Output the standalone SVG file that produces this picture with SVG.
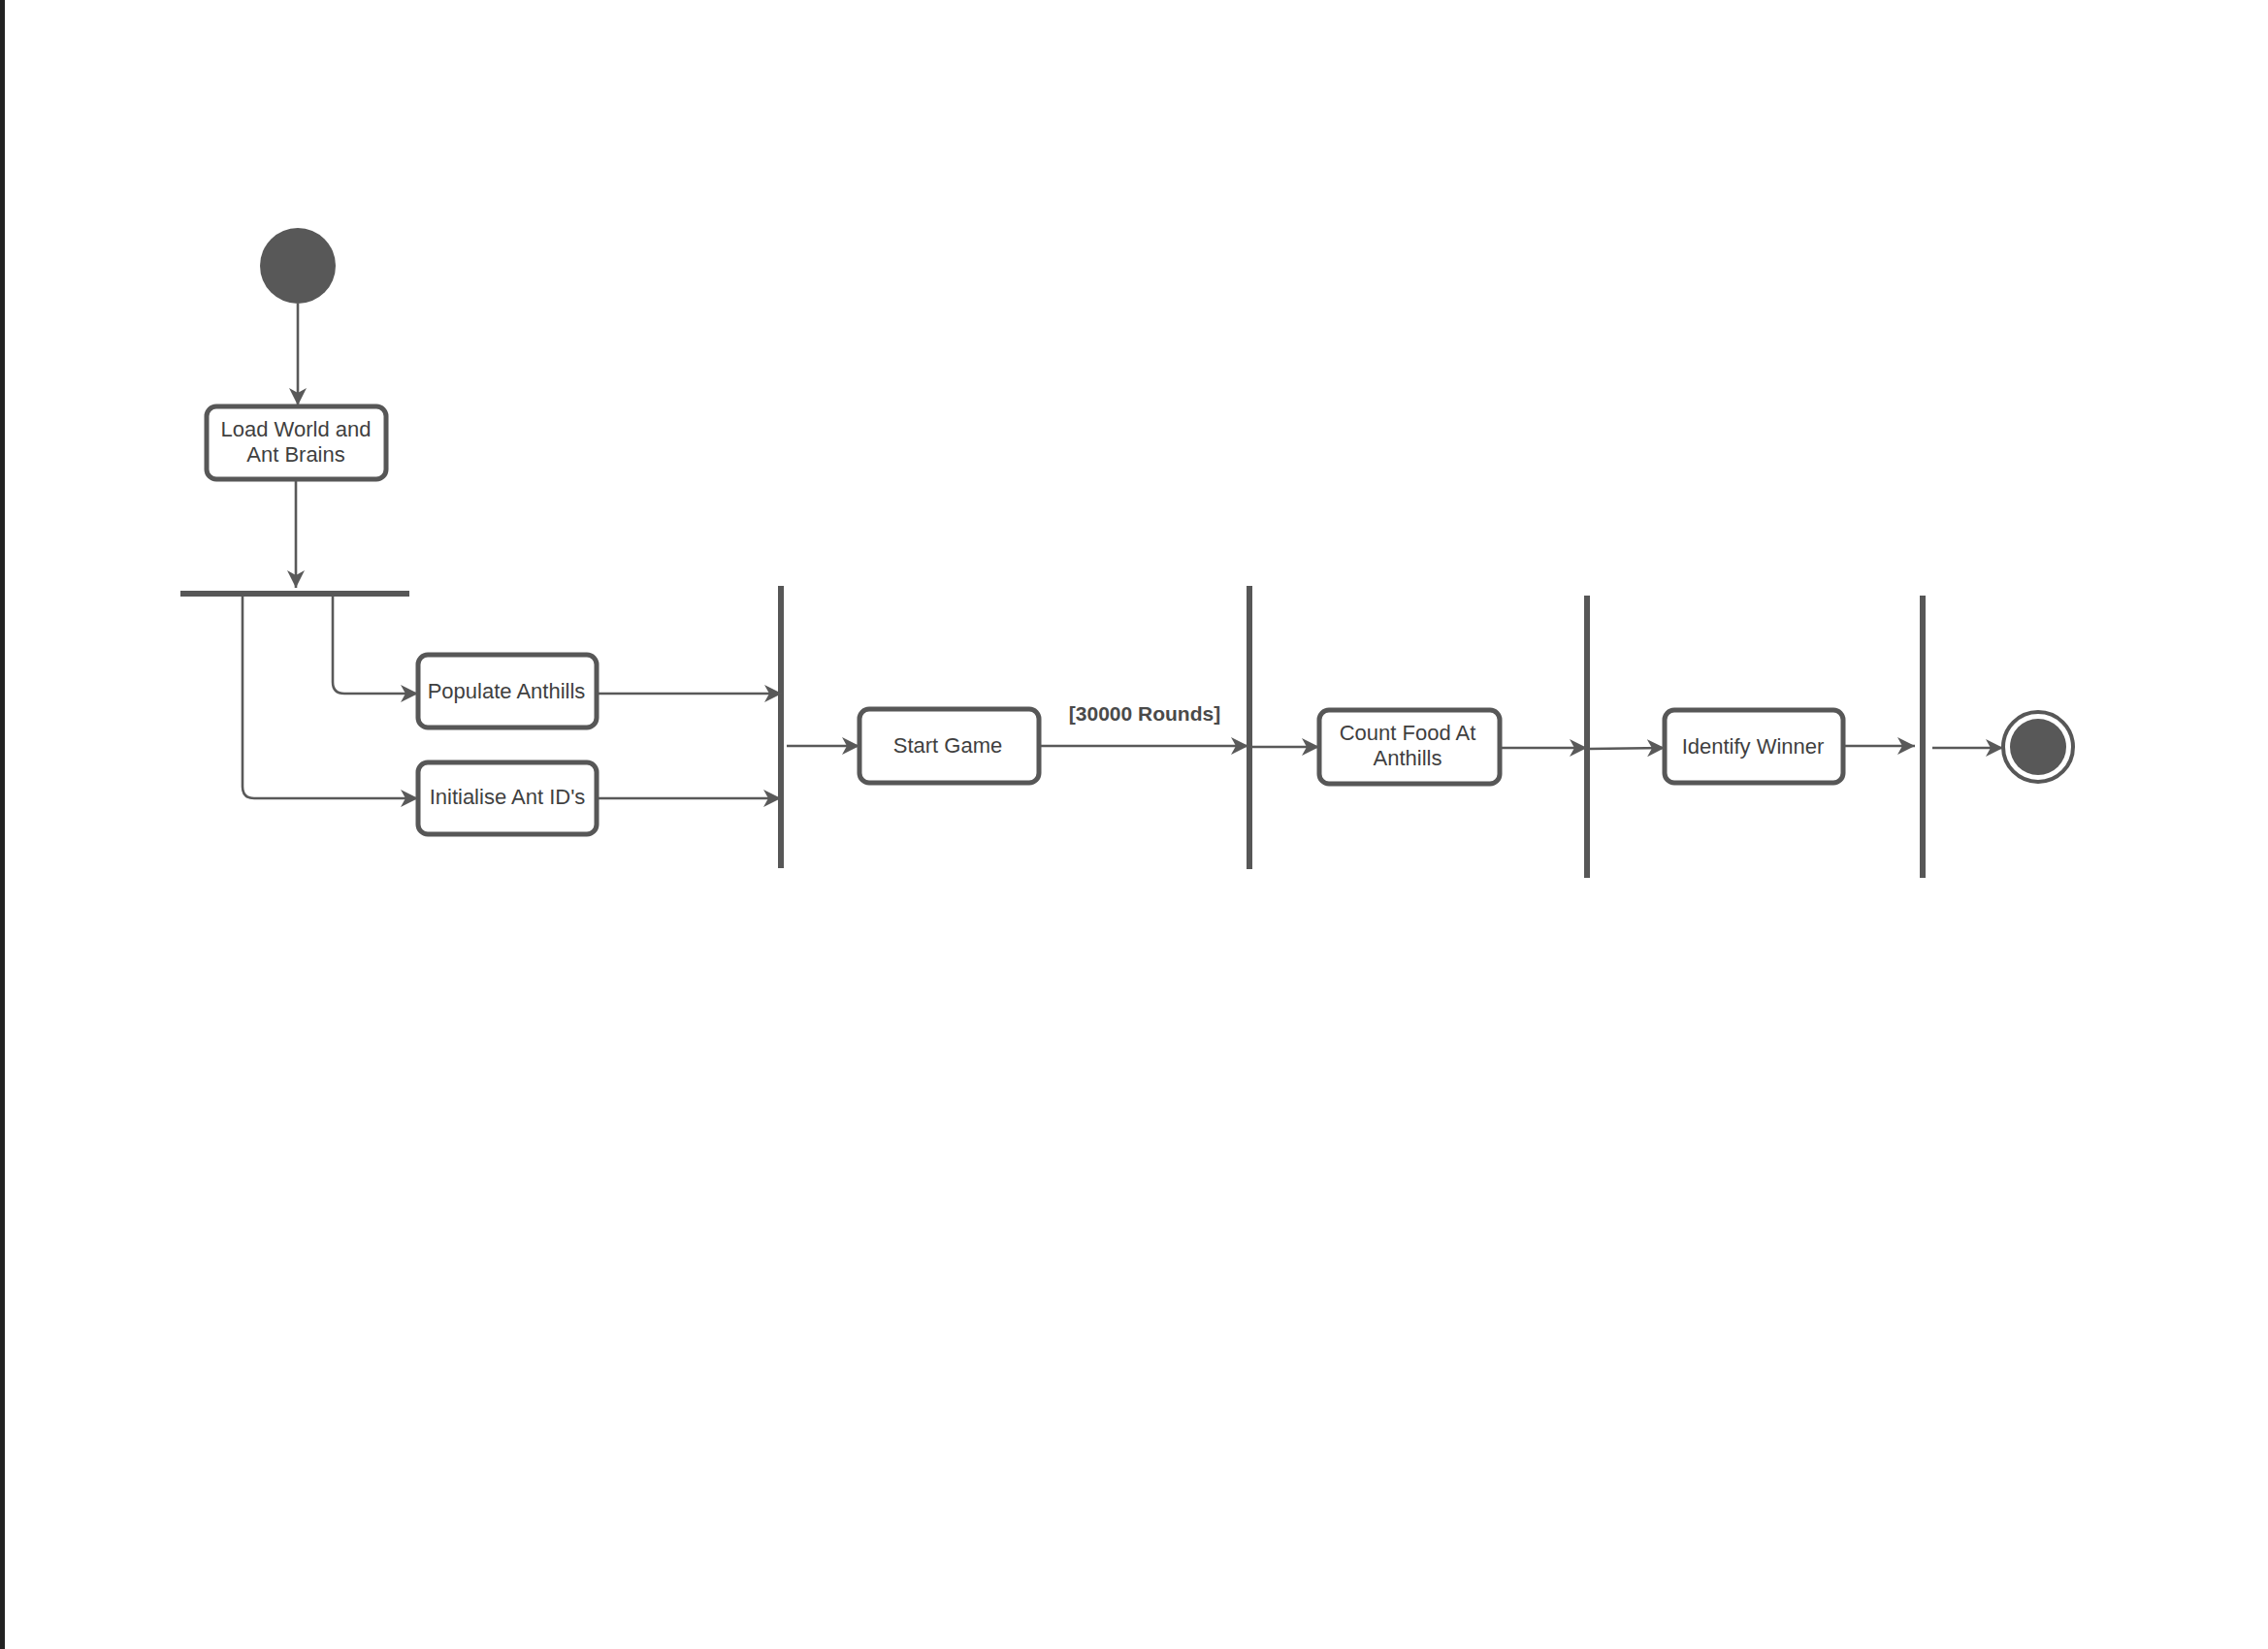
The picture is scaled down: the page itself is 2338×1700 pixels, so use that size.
<svg xmlns="http://www.w3.org/2000/svg" width="2338" height="1700" viewBox="0 0 2338 1700">
<style>
.node{fill:#fff;stroke:#575757;stroke-width:5}
.lbl{font-family:"Liberation Sans",Arial,sans-serif;font-size:22px;fill:#3f3f3f;text-anchor:middle}
.guard{font-family:"Liberation Sans",Arial,sans-serif;font-size:21px;font-weight:bold;fill:#4a4a4a;text-anchor:middle}
.edge{fill:none;stroke:#595959;stroke-width:2.6}
.bar{stroke:#575757;stroke-width:6}
</style>
<defs>
<marker id="arr" markerUnits="userSpaceOnUse" markerWidth="20" markerHeight="18" refX="18" refY="9" orient="auto">
<path d="M0,0 L18,9 L0,18 L5,9 z" fill="#595959"/>
</marker>
</defs>
<rect width="2338" height="1700" fill="#fff"/>
<rect x="0" y="0" width="5" height="1700" fill="#222"/>

<g id="start"><circle cx="307" cy="274" r="39" fill="#585858"/></g>

<g id="load"><rect class="node" x="213" y="419" width="185" height="75" rx="10"/>
<text class="lbl" x="305" y="450">Load World and</text>
<text class="lbl" x="305" y="476">Ant Brains</text></g>

<g id="fork"><line class="bar" x1="186" y1="612" x2="422" y2="612"/></g>

<g id="populate"><rect class="node" x="431" y="675" width="184" height="75" rx="10"/>
<text class="lbl" x="522" y="720">Populate Anthills</text></g>

<g id="initialise"><rect class="node" x="431" y="786" width="184" height="74" rx="10"/>
<text class="lbl" x="523" y="829">Initialise Ant ID's</text></g>

<g id="join1"><line class="bar" x1="805" y1="604" x2="805" y2="895"/></g>

<g id="startgame"><rect class="node" x="886" y="731" width="185" height="76" rx="10"/>
<text class="lbl" x="977" y="776">Start Game</text></g>

<g id="join2"><line class="bar" x1="1288" y1="604" x2="1288" y2="896"/></g>

<g id="countfood"><rect class="node" x="1360" y="732" width="186" height="76" rx="10"/>
<text class="lbl" x="1451" y="763">Count Food At</text>
<text class="lbl" x="1451" y="789">Anthills</text></g>

<g id="join3"><line class="bar" x1="1636" y1="614" x2="1636" y2="905"/></g>

<g id="identify"><rect class="node" x="1716" y="732" width="184" height="75" rx="10"/>
<text class="lbl" x="1807" y="777">Identify Winner</text></g>

<g id="join4"><line class="bar" x1="1982" y1="614" x2="1982" y2="905"/></g>

<g id="end"><circle cx="2101" cy="770" r="36" fill="#fff" stroke="#575757" stroke-width="4"/>
<circle cx="2101" cy="770" r="29" fill="#585858"/></g>

<g id="connectors">
<line class="edge" x1="307" y1="313" x2="307" y2="418" marker-end="url(#arr)"/>
<line class="edge" x1="305" y1="496" x2="305" y2="606" marker-end="url(#arr)"/>
<path class="edge" d="M343,615 V703 Q343,715 355,715 H431" marker-end="url(#arr)"/>
<path class="edge" d="M250,615 V811 Q250,823 262,823 H431" marker-end="url(#arr)"/>
<line class="edge" x1="617" y1="715" x2="806" y2="715" marker-end="url(#arr)"/>
<line class="edge" x1="617" y1="823" x2="805" y2="823" marker-end="url(#arr)"/>
<line class="edge" x1="811" y1="769" x2="886" y2="769" marker-end="url(#arr)"/>
<line class="edge" x1="1073" y1="769" x2="1287" y2="769" marker-end="url(#arr)"/>
<text class="guard" x="1180" y="743">[30000 Rounds]</text>
<line class="edge" x1="1290" y1="770" x2="1360" y2="770" marker-end="url(#arr)"/>
<line class="edge" x1="1548" y1="771" x2="1636" y2="771" marker-end="url(#arr)"/>
<line class="edge" x1="1638" y1="772" x2="1716" y2="771" marker-end="url(#arr)"/>
<line class="edge" x1="1902" y1="769" x2="1974" y2="769" marker-end="url(#arr)"/>
<line class="edge" x1="1992" y1="771" x2="2065" y2="771" marker-end="url(#arr)"/>
</g>
</svg>
